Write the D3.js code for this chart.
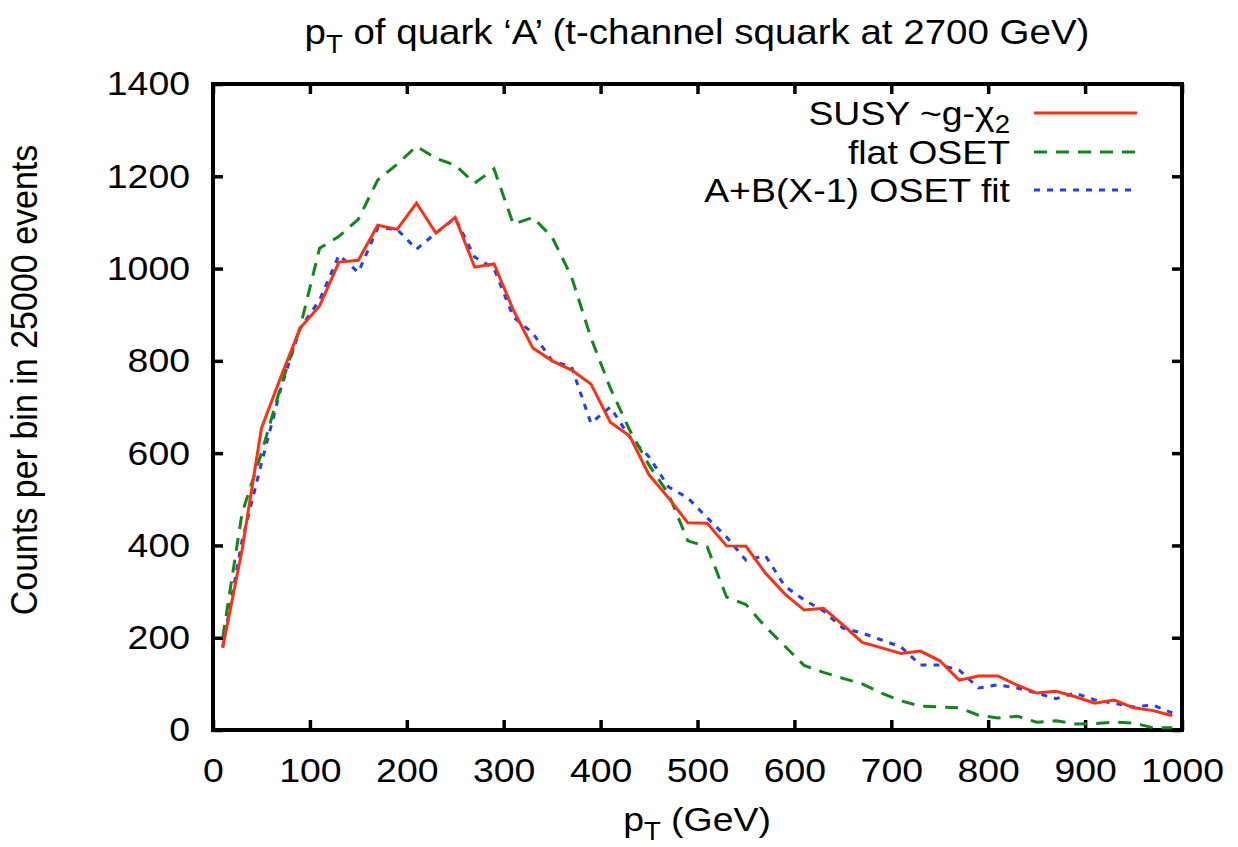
<!DOCTYPE html>
<html>
<head>
<meta charset="utf-8">
<script src="https://cdn.jsdelivr.net/npm/d3@7"></script>
<style>
  body { margin: 0; background: #fff; }
  text { font-family: "Liberation Sans", Arial, Helvetica, sans-serif; fill: #000; }
</style>
</head>
<body>
<div id="chart"></div>
<script>
// bin centres (GeV)
var binCenters = [10, 30, 50, 70, 90, 110, 130, 150, 170, 190,
  210, 230, 250, 270, 290, 310, 330, 350, 370, 390,
  410, 430, 450, 470, 490, 510, 530, 550, 570, 590,
  610, 630, 650, 670, 690, 710, 730, 750, 770, 790,
  810, 830, 850, 870, 890, 910, 930, 950, 970, 990];

var susyCounts = [178, 390, 654, 765, 871, 919, 1014, 1018, 1094, 1085,
  1142, 1077, 1111, 1003, 1010, 910, 828, 800, 780, 750,
  667, 637, 553, 503, 449, 448, 399, 398, 340, 295,
  260, 264, 228, 190, 178, 166, 171, 150, 108, 117,
  117, 97, 80, 84, 72, 58, 65, 48, 42, 31];

var flatOsetCounts = [200, 470, 600, 745, 873, 1044, 1070, 1107, 1192, 1226,
  1265, 1239, 1224, 1185, 1216, 1096, 1111, 1068, 982, 850,
  741, 650, 574, 512, 410, 397, 288, 272, 224, 182,
  140, 125, 112, 100, 80, 63, 52, 50, 48, 32,
  26, 30, 17, 20, 13, 14, 17, 15, 5, 5];

var fitOsetCounts = [180, 410, 578, 740, 871, 932, 1029, 992, 1088, 1085,
  1042, 1077, 1109, 1025, 1000, 895, 860, 800, 787, 665,
  700, 635, 592, 527, 503, 460, 418, 368, 378, 312,
  282, 258, 221, 210, 195, 180, 141, 141, 130, 91,
  98, 91, 80, 68, 80, 65, 58, 50, 54, 37];

var seriesNames = ["SUSY ~g-\u03c7", "flat OSET", "A+B(X-1) OSET fit"];
var xTicks = [0, 100, 200, 300, 400, 500, 600, 700, 800, 900, 1000];
var yTicks = [0, 200, 400, 600, 800, 1000, 1200, 1400];

var width = 1238,
  height = 847,
  plotLeft = 213, plotRight = 1182, plotTop = 84, plotBottom = 730,
  fontSize = 34,
  stretchX = 1.1;

var svg = d3.select("#chart").append("svg")
  .attr("width", width)
  .attr("height", height);

var x = d3.scaleLinear().domain([0, 1000]).range([plotLeft, plotRight]);
var y = d3.scaleLinear().domain([0, 1400]).range([plotBottom, plotTop]);

// widen glyphs a little, about the text anchor point
function stretch(sel) {
  sel.each(function() {
    var t = d3.select(this);
    var tx = +t.attr("x") || 0, ty = +t.attr("y") || 0;
    t.attr("transform", "translate(" + tx + "," + ty + ") scale(" + stretchX + ",1) translate(" + (-tx) + "," + (-ty) + ")");
  });
}

// axes with inward ticks
var xAxis = svg.append("g")
  .attr("transform", "translate(0," + plotBottom + ")")
  .call(d3.axisBottom(x).tickValues(xTicks).tickSize(-10).tickPadding(28).tickFormat(d3.format("d")));
var xTop = svg.append("g")
  .attr("transform", "translate(0," + plotTop + ")")
  .call(d3.axisTop(x).tickValues(xTicks).tickSize(-10).tickFormat(""));
var yAxis = svg.append("g")
  .attr("transform", "translate(" + plotLeft + ",0)")
  .call(d3.axisLeft(y).tickValues(yTicks).tickSize(-10).tickPadding(23).tickFormat(d3.format("d")));
var yRight = svg.append("g")
  .attr("transform", "translate(" + plotRight + ",0)")
  .call(d3.axisRight(y).tickValues(yTicks).tickSize(-10).tickFormat(""));

[xAxis, xTop, yAxis, yRight].forEach(function(a) {
  a.select(".domain").remove();
  a.selectAll("line").attr("stroke", "#000").attr("stroke-width", 3.5);
  a.selectAll("text").attr("font-size", fontSize).attr("font-family", null).call(stretch);
});

// frame
svg.append("rect")
  .attr("x", plotLeft).attr("y", plotTop)
  .attr("width", plotRight - plotLeft).attr("height", plotBottom - plotTop)
  .attr("fill", "none").attr("stroke", "#000").attr("stroke-width", 4);

var styles = [
  { color: "#ff3010", dash: null },
  { color: "#11871a", dash: "13,9" },
  { color: "#1f3fff", dash: "6,7" }
];
var allSeries = [susyCounts, flatOsetCounts, fitOsetCounts];

var line = d3.line()
  .x(function(d) { return x(d[0]); })
  .y(function(d) { return y(d[1]); });

// draw blue first so the solid red sits on top like the original
[2, 1, 0].forEach(function(i) {
  var pts = binCenters.map(function(c, j) { return [c, allSeries[i][j]]; });
  svg.append("path")
    .datum(pts)
    .attr("d", line)
    .attr("fill", "none")
    .attr("stroke", styles[i].color)
    .attr("stroke-width", 3)
    .attr("stroke-dasharray", styles[i].dash)
    .attr("stroke-linejoin", "miter");
});

// legend
var legRows = [113, 152, 190];
seriesNames.forEach(function(name, i) {
  var t = svg.append("text")
    .attr("x", 1010).attr("y", legRows[i] + 12)
    .attr("text-anchor", "end")
    .attr("font-size", fontSize);
  t.append("tspan").text(name);
  if (i === 0) {
    t.append("tspan").attr("font-size", 25).attr("dy", 8).text("2");
  }
  t.call(stretch);
  svg.append("line")
    .attr("x1", 1034).attr("x2", 1137)
    .attr("y1", legRows[i]).attr("y2", legRows[i])
    .attr("stroke", styles[i].color)
    .attr("stroke-width", 3)
    .attr("stroke-dasharray", styles[i].dash);
});

// title
var title = svg.append("text")
  .attr("x", 697).attr("y", 44)
  .attr("text-anchor", "middle")
  .attr("font-size", 35);
title.append("tspan").text("p");
title.append("tspan").attr("font-size", 25).attr("dy", 9).text("T");
title.append("tspan").attr("dy", -9).text(" of quark \u2018A\u2019 (t-channel squark at 2700 GeV)");
title.call(stretch);

// x label
var xLabel = svg.append("text")
  .attr("x", 697).attr("y", 831)
  .attr("text-anchor", "middle")
  .attr("font-size", fontSize);
xLabel.append("tspan").text("p");
xLabel.append("tspan").attr("font-size", 25).attr("dy", 9).text("T");
xLabel.append("tspan").attr("dy", -9).text(" (GeV)");
xLabel.call(stretch);

// y label
svg.append("text")
  .attr("transform", "translate(37,380) rotate(-90) scale(1," + stretchX + ")")
  .attr("text-anchor", "middle")
  .attr("font-size", fontSize)
  .text("Counts per bin in 25000 events");
</script>
</body>
</html>
